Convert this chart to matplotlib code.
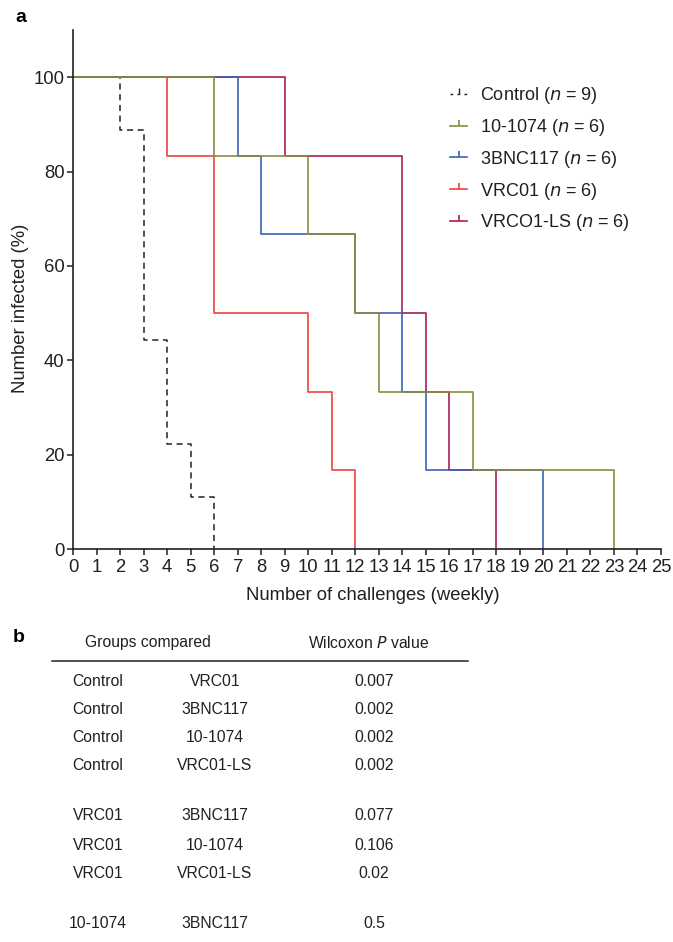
import matplotlib
matplotlib.use("Agg")
import matplotlib.pyplot as plt
from matplotlib.lines import Line2D

plt.rcParams['font.family'] = ['Liberation Sans', 'DejaVu Sans']
TXT = '#231f20'

# ---- data (Kaplan-Meier style steps) ----
control_x = [0, 2, 3, 4, 5, 6]
control_y = [100, 88.9, 44.4, 22.2, 11.1, 0]
vrc01ls_x = [0, 9, 14, 15, 16, 18]
vrc01ls_y = [100, 83.3, 50, 33.3, 16.7, 0]
vrc01_x = [0, 4, 6, 10, 11, 12]
vrc01_y = [100, 83.3, 50, 33.3, 16.7, 0]
bnc_x = [0, 7, 8, 12, 14, 15, 20]
bnc_y = [100, 83.3, 66.7, 50, 33.3, 16.7, 0]
t1074_x = [0, 6, 10, 12, 13, 17, 23]
t1074_y = [100, 83.3, 66.7, 50, 33.3, 16.7, 0]

legend_labels = ['Control ($n$ = 9)', '10-1074 ($n$ = 6)', '3BNC117 ($n$ = 6)',
                 'VRC01 ($n$ = 6)', 'VRCO1-LS ($n$ = 6)']
x_ticks = list(range(0, 26))
y_ticks = [0, 20, 40, 60, 80, 100]

table_col1 = ['Control', 'Control', 'Control', 'Control', 'VRC01', 'VRC01', 'VRC01', '10-1074']
table_col2 = ['VRC01', '3BNC117', '10-1074', 'VRC01-LS', '3BNC117', '10-1074', 'VRC01-LS', '3BNC117']
table_p = ['0.007', '0.002', '0.002', '0.002', '0.077', '0.106', '0.02', '0.5']

c_ctrl = '#222222'
c_1074 = '#8a8c3c'
c_bnc = '#3a62b4'
c_vrc = '#f0403c'
c_ls = '#a81c5c'

W, H = 673, 942
fig = plt.figure(figsize=(W / 100, H / 100), dpi=100)
ax = fig.add_axes([73 / W, (H - 549) / H, (661 - 73) / W, (549 - 30) / H])

lw = 1.2
ax.step(control_x, control_y, where='post', color=c_ctrl, lw=1.1, dashes=(4, 3))
ax.step(vrc01ls_x, vrc01ls_y, where='post', color=c_ls, lw=lw)
ax.step(vrc01_x, vrc01_y, where='post', color=c_vrc, lw=lw)
ax.step(bnc_x, bnc_y, where='post', color=c_bnc, lw=lw)
ax.step(t1074_x, t1074_y, where='post', color=c_1074, lw=lw)

FS = 13.3
ax.set_xlim(0, 25)
ax.set_ylim(0, 110)
ax.set_xticks(x_ticks)
ax.set_yticks(y_ticks)
ax.spines['top'].set_visible(False)
ax.spines['right'].set_visible(False)
for s in ['left', 'bottom']:
    ax.spines[s].set_linewidth(1.2)
    ax.spines[s].set_color(TXT)
ax.tick_params(axis='both', direction='out', length=4, width=1.1, colors=TXT,
               labelsize=FS, pad=2)
ax.tick_params(axis='x', pad=3)
ax.set_xlabel('Number of challenges (weekly)', fontsize=FS, color=TXT)
ax.set_ylabel('Number infected (%)', fontsize=FS, color=TXT)
ax.xaxis.set_label_coords((373 - 73) / 588, -(595 - 549) / 519)
ax.yaxis.set_label_coords(-(73 - 21) / 588, (549 - 308) / 519)
ax.xaxis.label.set_va('center')
ax.yaxis.label.set_va('center')

handles = [
    Line2D([], [], color=c_ctrl, lw=1.0, dashes=(2, 3), marker=2, markersize=4, markeredgewidth=1.0),
    Line2D([], [], color=c_1074, lw=1.2, marker=2, markersize=4, markeredgewidth=1.2),
    Line2D([], [], color=c_bnc, lw=1.2, marker=2, markersize=4, markeredgewidth=1.2),
    Line2D([], [], color=c_vrc, lw=1.2, marker=2, markersize=4, markeredgewidth=1.2),
    Line2D([], [], color=c_ls, lw=1.2, marker=2, markersize=4, markeredgewidth=1.2),
]
leg = ax.legend(handles, legend_labels, loc='upper left',
                bbox_to_anchor=((450 - 73) / 588, (549 - 85) / 519),
                frameon=False, fontsize=13, handlelength=0.95, handletextpad=0.7,
                labelspacing=0.6, borderaxespad=0, borderpad=0)
for t in leg.get_texts():
    t.set_color(TXT)

# panel letters
fig.text(15 / W, 1 - 18 / H, 'a', fontsize=14, fontweight='bold', va='center', ha='left', color='black')
fig.text(13 / W, 1 - 638 / H, 'b', fontsize=14, fontweight='bold', va='center', ha='left', color='black')

# table
fs = 11.3
fig.text(148 / W, 1 - 643 / H, 'Groups compared', fontsize=fs, ha='center', va='center', color=TXT)
fig.text(369 / W, 1 - 643 / H, 'Wilcoxon $P$ value', fontsize=fs, ha='center', va='center', color=TXT)
fig.add_artist(Line2D([52 / W, 468 / W], [1 - 661 / H, 1 - 661 / H], color=TXT, lw=1.1,
                      transform=fig.transFigure))
row_y = [681, 710, 738, 766, 816, 845, 873, 923]
for y, a, b, p in zip(row_y, table_col1, table_col2, table_p):
    fig.text(98 / W, 1 - y / H, a, fontsize=fs, ha='center', va='center', color=TXT)
    fig.text(215 / W, 1 - y / H, b, fontsize=fs, ha='center', va='center', color=TXT)
    fig.text(374 / W, 1 - y / H, p, fontsize=fs, ha='center', va='center', color=TXT)

fig.savefig('out.png', dpi=100)
